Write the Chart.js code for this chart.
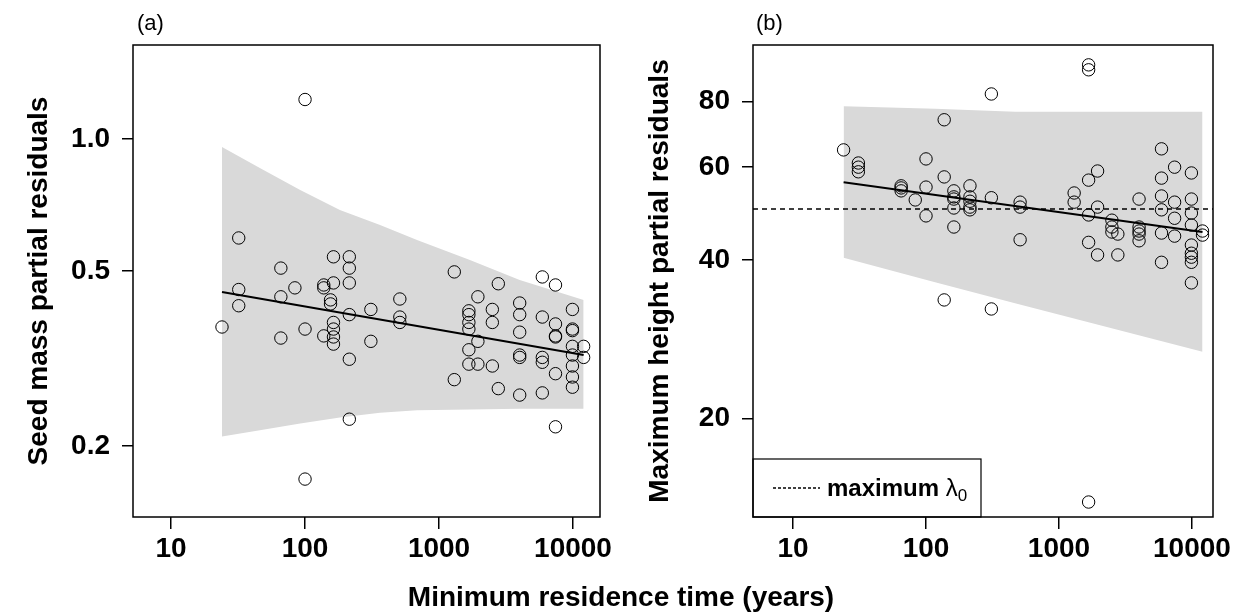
<!DOCTYPE html>
<html>
<head>
<meta charset="utf-8">
<script src="https://cdn.jsdelivr.net/npm/chart.js@4.4.1/dist/chart.umd.min.js"></script>
<style>
  html, body { margin: 0; padding: 0; background: #fff; }
  #wrap { position: relative; width: 1242px; height: 613px; overflow: hidden;
          font-family: "Liberation Sans", Arial, sans-serif; color: #000; }
  #wrap canvas { position: absolute; top: 0; }
  #cvA { left: 0; }
  #cvB { left: 621px; }
  .tag { position: absolute; top: 10px; font-size: 22px; line-height: 26px; }
  #xtitle { position: absolute; left: 0; width: 1242px; top: 581px; text-align: center;
            font-weight: bold; font-size: 28px; line-height: 32px; }
</style>
</head>
<body>
<div id="wrap">
  <canvas id="cvA" width="621" height="613"></canvas>
  <canvas id="cvB" width="621" height="613"></canvas>
  <div class="tag" style="left:137px">(a)</div>
  <div class="tag" style="left:756px">(b)</div>
  <div id="xtitle">Minimum residence time (years)</div>
</div>
<script>
// x axis: minimum residence time (years), shared by both panels
const xTicks = [10, 100, 1000, 10000];
const xTickLabels = ['10', '100', '1000', '10000'];

// (a) seed mass partial residuals
const seedTime = [24, 32, 32, 32, 66, 66, 66, 84, 100, 100, 100, 138, 138, 138, 155, 155,
  163, 163, 163, 163, 163, 163, 214, 214, 214, 214, 214, 214, 310, 310, 510, 510, 510,
  1300, 1300, 1670, 1670, 1670, 1670, 1670, 1670, 1950, 1950, 1950, 2500, 2500, 2500,
  2770, 2770, 4000, 4000, 4000, 4000, 4000, 4000, 5900, 5900, 5900, 5900, 5900,
  7400, 7400, 7400, 7400, 7400, 7400, 9900, 9900, 9900, 9900, 9900, 9900, 9900, 9900,
  12000, 12000];
const seedResid = [0.373, 0.595, 0.454, 0.417, 0.508, 0.437, 0.352, 0.458, 1.23, 0.369, 0.168,
  0.465, 0.458, 0.356, 0.430, 0.421,
  0.539, 0.470, 0.382, 0.369, 0.354, 0.341, 0.539, 0.508, 0.470, 0.398, 0.315, 0.230,
  0.409, 0.346, 0.432, 0.393, 0.382,
  0.498, 0.283, 0.406, 0.398, 0.382, 0.369, 0.331, 0.307, 0.437, 0.346, 0.307, 0.409, 0.382, 0.304,
  0.468, 0.270, 0.423, 0.398, 0.363, 0.322, 0.318, 0.261, 0.485, 0.393, 0.318, 0.310, 0.264,
  0.465, 0.379, 0.356, 0.354, 0.292, 0.221, 0.409, 0.369, 0.366, 0.337, 0.322, 0.304, 0.287, 0.272,
  0.337, 0.318];
const seedFitTime = [24, 12000];
const seedFit = [0.448, 0.322];
const seedBandTime = [24, 46, 92, 182, 363, 685, 1700, 4000, 12000];
const seedBandUpper = [0.959, 0.859, 0.765, 0.689, 0.637, 0.589, 0.530, 0.477, 0.430];
const seedBandLower = [0.210, 0.217, 0.225, 0.232, 0.238, 0.241, 0.242, 0.243, 0.243];
const seedTicks = [0.2, 0.5, 1.0];
const seedTickLabels = ['0.2', '0.5', '1.0'];

// (b) maximum height partial residuals
const heightTime = [24, 31, 31, 31, 65, 65, 65, 83, 100, 100, 100, 137, 137, 137,
  162, 162, 162, 162, 162, 214, 214, 214, 214, 214, 310, 310, 310, 510, 510, 510, 1300, 1300,
  1670, 1670, 1670, 1670, 1670, 1670, 1950, 1950, 1950, 2500, 2500, 2500, 2770, 2770,
  4000, 4000, 4000, 4000, 4000, 5900, 5900, 5900, 5900, 5900, 5900, 7400, 7400, 7400, 7400,
  9900, 9900, 9900, 9900, 9900, 9900, 9900, 9900, 9900, 12000, 12000];
const heightResid = [64.7, 61.1, 60.0, 58.8, 55.3, 54.8, 54.1, 52.0, 62.2, 55.0, 48.5, 73.8, 57.5, 33.6,
  54.1, 52.7, 52.2, 50.2, 46.2, 55.3, 52.7, 51.7, 50.4, 49.8, 82.6, 52.5, 32.3, 51.5, 50.4, 43.7, 53.6, 51.5,
  93.8, 91.8, 56.7, 48.7, 43.2, 13.9, 59.0, 50.4, 40.9, 47.6, 46.2, 45.2, 44.8, 40.9,
  52.2, 46.2, 45.4, 44.8, 43.5, 65.0, 57.2, 52.9, 49.8, 45.0, 39.6, 60.0, 51.5, 48.0, 44.4,
  58.5, 52.2, 49.1, 46.6, 42.7, 41.2, 40.5, 39.6, 36.2, 45.4, 44.6];
const heightFitTime = [24, 12000];
const heightFit = [56.2, 45.2];
const heightBandTime = [24, 117, 467, 12000];
const heightBandUpper = [78.3, 77.4, 76.4, 76.4];
const heightBandLower = [40.4, 36.3, 33.1, 26.8];
const heightTicks = [20, 40, 60, 80];
const heightTickLabels = ['20', '40', '60', '80'];
const lambdaMax = 50;

const FONT = '"Liberation Sans", Arial, sans-serif';

function pares(xs, ys) {
  return xs.map((x, i) => ({ x, y: ys[i] }));
}

// box around the plotting region
const marco = {
  id: 'marco',
  afterDraw(chart) {
    const { ctx, chartArea: a } = chart;
    ctx.save();
    ctx.strokeStyle = '#000';
    ctx.lineWidth = 1.5;
    ctx.strokeRect(a.left, a.top, a.right - a.left, a.bottom - a.top);
    ctx.restore();
  }
};

// legend for the dashed line in panel (b)
const leyendaLambda = {
  id: 'leyendaLambda',
  afterDatasetsDraw(chart) {
    const { ctx, chartArea: a } = chart;
    const w = 228, h = 58;
    const y = a.bottom - h / 2;
    ctx.save();
    ctx.fillStyle = '#fff';
    ctx.fillRect(a.left, a.bottom - h, w, h);
    ctx.strokeStyle = '#000';
    ctx.lineWidth = 1.2;
    ctx.strokeRect(a.left, a.bottom - h, w, h);
    ctx.setLineDash([3, 2]);
    ctx.lineWidth = 1.5;
    ctx.beginPath();
    ctx.moveTo(a.left + 20, y);
    ctx.lineTo(a.left + 67, y);
    ctx.stroke();
    ctx.setLineDash([]);
    ctx.fillStyle = '#000';
    ctx.textBaseline = 'alphabetic';
    let x = a.left + 74;
    ctx.font = 'bold 24px ' + FONT;
    ctx.fillText('maximum ', x, y + 8);
    x += ctx.measureText('maximum ').width;
    ctx.font = '24px ' + FONT;
    ctx.fillText('λ', x, y + 8);
    x += ctx.measureText('λ').width;
    ctx.font = '17px ' + FONT;
    ctx.fillText('0', x, y + 13);
    ctx.restore();
  }
};

function crearPanel(idCanvas, cfg) {
  const ctx = document.getElementById(idCanvas).getContext('2d');
  const datasets = [
    {
      type: 'line', data: pares(cfg.bandTime, cfg.bandUpper), fill: '+1',
      backgroundColor: '#d9d9d9', borderWidth: 0, pointRadius: 0, order: 4
    },
    {
      type: 'line', data: pares(cfg.bandTime, cfg.bandLower), fill: false,
      borderWidth: 0, pointRadius: 0, order: 4
    },
    {
      type: 'line', data: pares(cfg.fitTime, cfg.fit), borderColor: '#000',
      borderWidth: 2, pointRadius: 0, fill: false, order: 2
    },
    {
      type: 'scatter', data: pares(cfg.time, cfg.resid), pointRadius: 6.2,
      pointBorderWidth: 1, pointBorderColor: '#000', pointBackgroundColor: 'rgba(0,0,0,0)',
      order: 1
    }
  ];
  if (cfg.refLine !== undefined) {
    datasets.push({
      type: 'line', data: pares([cfg.xMin, cfg.xMax], [cfg.refLine, cfg.refLine]),
      borderColor: '#000', borderWidth: 1.5, borderDash: [5, 4], pointRadius: 0,
      fill: false, order: 3
    });
  }
  return new Chart(ctx, {
    type: 'scatter',
    data: { datasets },
    plugins: cfg.plugins,
    options: {
      responsive: false,
      animation: false,
      events: [],
      layout: { padding: { top: 45, right: cfg.padRight, left: 0, bottom: 0 } },
      plugins: { legend: { display: false }, tooltip: { enabled: false } },
      scales: {
        x: {
          type: 'logarithmic', min: cfg.xMin, max: cfg.xMax,
          afterBuildTicks: s => { s.ticks = xTicks.map(v => ({ value: v })); },
          afterFit: s => { s.height = 96; },
          ticks: {
            autoSkip: false, maxRotation: 0, padding: 3, color: '#000',
            font: { family: FONT, size: 28, weight: 'bold' },
            callback: (v, i) => xTickLabels[i]
          },
          grid: { drawOnChartArea: false, drawTicks: true, tickLength: 12, color: '#000', lineWidth: 1.5 },
          border: { display: false }
        },
        y: {
          type: 'logarithmic', min: cfg.yMin, max: cfg.yMax,
          afterBuildTicks: s => { s.ticks = cfg.yTicks.map(v => ({ value: v })); },
          afterFit: s => { s.width = cfg.axisWidth; },
          ticks: {
            autoSkip: false, padding: 12, color: '#000',
            font: { family: FONT, size: 28, weight: 'bold' },
            callback: (v, i) => cfg.yTickLabels[i]
          },
          grid: { drawOnChartArea: false, drawTicks: true, tickLength: 11, color: '#000', lineWidth: 1.5 },
          border: { display: false },
          title: {
            display: true, text: cfg.yTitle, color: '#000',
            font: { family: FONT, size: 28, weight: 'bold' },
            padding: { top: 22, bottom: 0 }
          }
        }
      }
    }
  });
}

crearPanel('cvA', {
  time: seedTime, resid: seedResid,
  fitTime: seedFitTime, fit: seedFit,
  bandTime: seedBandTime, bandUpper: seedBandUpper, bandLower: seedBandLower,
  yTicks: seedTicks, yTickLabels: seedTickLabels,
  xMin: 5.2, xMax: 15900, yMin: 0.1377, yMax: 1.637,
  axisWidth: 133, padRight: 21,
  yTitle: 'Seed mass partial residuals',
  plugins: [marco]
});

crearPanel('cvB', {
  time: heightTime, resid: heightResid,
  fitTime: heightFitTime, fit: heightFit,
  bandTime: heightBandTime, bandUpper: heightBandUpper, bandLower: heightBandLower,
  yTicks: heightTicks, yTickLabels: heightTickLabels,
  xMin: 5.0, xMax: 14390, yMin: 13.02, yMax: 102.3,
  refLine: lambdaMax,
  axisWidth: 132, padRight: 29,
  yTitle: 'Maximum height partial residuals',
  plugins: [leyendaLambda, marco]
});
</script>
</body>
</html>
